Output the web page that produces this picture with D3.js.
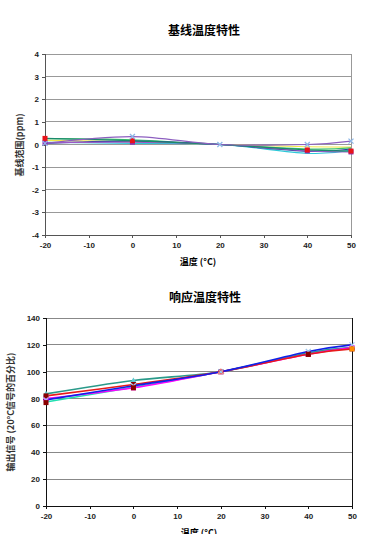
<!DOCTYPE html>
<html><head><meta charset="utf-8">
<script src="https://cdn.jsdelivr.net/npm/d3@7"></script>
<style>body{margin:0;background:#fff}svg{display:block}</style>
</head><body><svg id="c" width="392" height="534"></svg>
<script>
// ---------- data ----------
const temps = [-20, 0, 20, 40, 50];
const xTicks = [-20, -10, 0, 10, 20, 30, 40, 50];
const baseTicks = [-4, -3, -2, -1, 0, 1, 2, 3, 4];
const respTicks = [0, 20, 40, 60, 80, 100, 120, 140];

const baseTitle = "基线温度特性";
const respTitle = "响应温度特性";
const xLabel = "温度 (°C)";
const baseYLabel = "基线范围(ppm)";
const respYLabel = "输出信号 (20°C信号的百分比)";

const baseSeries = [
  {name:"s1", color:"#f2e94a", marker:null,     values:[0.18, 0.12, 0, -0.1, -0.12]},
  {name:"s2", color:"#3ec46d", marker:null,     values:[0.26, 0.21, 0, -0.2, -0.15]},
  {name:"s3", color:"#2ec8d8", marker:null,     values:[0.10, 0.05, 0, -0.39, -0.25]},
  {name:"s4", color:"#2a3d9a", marker:null,     values:[0.05, 0.15, 0, -0.30, -0.20]},
  {name:"s5", color:"#9b59c8", marker:"square", mcolor:"#8e2fb5", values:[0.08, 0.10, null, -0.28, -0.33]},
  {name:"s7", color:"#1a8a6a", marker:"square", mcolor:"#e8141a", values:[0.27, 0.17, null, -0.24, -0.29]},
  {name:"s6", color:"#8d5fc0", marker:"x",      mcolor:"#8fb8e8", values:[0.05, 0.35, 0, 0.0, 0.15]}
];

const respSeries = [
  {name:"r1", color:"#20e0b0", marker:null,     values:[77.5, 88.5, 100, 114, 118]},
  {name:"r2", color:"#2a9a8a", marker:"tri",    mcolor:"#5fc8d0", values:[83.5, 93.5, 100, 114, 118]},
  {name:"r3", color:"#ff00ff", marker:"square", mcolor:"#ff00ff", values:[80, 88, 100, 113, 118]},
  {name:"r4", color:"#e81a1a", marker:"square", mcolor:"#8b0000", values:[82, 90.5, 100, 113, 117]},
  {name:"r5", color:"#1020e8", marker:"x",      mcolor:"#a0c8f0", values:[79, 89.5, 100, 115, 120]},
  {name:"r6", color:null,      marker:"square", mcolor:"#ff8c00", values:[null, null, null, null, 117]},
  {name:"r7", color:null,      marker:"square", mcolor:"#8b0000", values:[77, 88, null, 113, null]},
  {name:"r8", color:null,      marker:"otri",   mcolor:"#f08080", values:[null, null, 100, null, null]}
];

// ---------- drawing ----------
const svg = d3.select("#c");
const tickFont = "bold 8px 'Liberation Sans', Arial, sans-serif";

function chart(cfg){
  const {top,bottom,left,right,yDomain,yTicks,series,title,titleY,ylab,ylabX,ylabY,xlabY,axisColor,gridColor} = cfg;
  const x = d3.scaleLinear().domain([-20,50]).range([left,right]);
  const y = d3.scaleLinear().domain(yDomain).range([bottom,top]);
  const g = svg.append("g");

  g.append("text").attr("x",(left+right)/2+6).attr("y",titleY).attr("text-anchor","middle")
    .attr("dominant-baseline","central")
    .style("font","bold 12px 'Noto Sans CJK SC', sans-serif").text(title);

  g.append("g").selectAll("line").data(yTicks).join("line")
    .attr("x1",left).attr("x2",right).attr("y1",d=>y(d)).attr("y2",d=>y(d))
    .attr("stroke",gridColor).attr("stroke-width",1).attr("shape-rendering","crispEdges");
  g.append("line").attr("x1",right).attr("x2",right).attr("y1",top).attr("y2",bottom)
    .attr("stroke",cfg.rightColor).attr("shape-rendering","crispEdges");

  const fmt = d=>String(d);
  const ya = d3.axisLeft(y).tickValues(yTicks).tickSize(3).tickPadding(3).tickFormat(fmt);
  const yg = g.append("g").attr("transform",`translate(${left},0)`).call(ya);
  const xa = d3.axisBottom(x).tickValues(xTicks).tickSize(3).tickPadding(4).tickFormat(fmt);
  const xg = g.append("g").attr("transform",`translate(0,${bottom})`).call(xa);
  [yg,xg].forEach(a=>{
    a.select(".domain").attr("stroke",axisColor).attr("shape-rendering","crispEdges");
    a.selectAll(".tick line").attr("stroke",axisColor).attr("shape-rendering","crispEdges");
    a.selectAll("text").style("font",tickFont).attr("fill","#222");
  });

  g.append("text").attr("x",(left+right)/2).attr("y",xlabY).attr("text-anchor","middle")
    .attr("dominant-baseline","central")
    .style("font","bold 9px 'Noto Sans CJK SC', sans-serif").text(xLabel);
  g.append("text").attr("transform",`translate(${ylabX},${ylabY}) rotate(-90)`).attr("text-anchor","middle")
    .attr("dominant-baseline","central")
    .style("font","bold 9px 'Noto Sans CJK SC', sans-serif").attr("fill","#333").text(ylab);

  const line = d3.line().x(d=>x(d.t)).y(d=>y(d.v)).curve(d3.curveCatmullRom.alpha(0));
  series.forEach(s=>{
    if(!s.color) return;
    const pts = temps.map((t,i)=>({t, v:s.values[i]})).filter(d=>d.v!=null);
    if(s.values[2]===null){ pts.push({t:20,v:yDomain[0]===0?100:0}); pts.sort((a,b)=>a.t-b.t); }
    g.append("path").datum(pts).attr("d",line).attr("fill","none")
      .attr("stroke",s.color).attr("stroke-width",cfg.lw);
  });
  series.forEach(s=>{
    if(!s.marker) return;
    const pts = temps.map((t,i)=>({t, v:s.values[i]})).filter(d=>d.v!=null);
    const mg = g.append("g");
    pts.forEach(d=>{
      const cx=x(d.t), cy=y(d.v);
      if(s.marker==="square"){
        mg.append("rect").attr("x",cx-2.5).attr("y",cy-2.5).attr("width",5).attr("height",5).attr("fill",s.mcolor);
      } else if(s.marker==="x"){
        mg.append("path").attr("d",`M${cx-2.5},${cy-2.5}L${cx+2.5},${cy+2.5}M${cx-2.5},${cy+2.5}L${cx+2.5},${cy-2.5}`)
          .attr("stroke",s.mcolor).attr("stroke-width",1.3);
      } else if(s.marker==="tri"){
        mg.append("path").attr("d",`M${cx},${cy-3}L${cx+3},${cy+2}L${cx-3},${cy+2}Z`).attr("fill",s.mcolor);
      } else if(s.marker==="otri"){
        mg.append("path").attr("d",`M${cx},${cy-3}L${cx+3},${cy+2}L${cx-3},${cy+2}Z`).attr("fill","none")
          .attr("stroke",s.mcolor).attr("stroke-width",1);
      }
    });
  });
}

chart({top:54,bottom:235,left:45,right:351,yDomain:[-4,4],yTicks:baseTicks,series:baseSeries,
  title:baseTitle,titleY:29,ylab:baseYLabel,ylabX:19,ylabY:145,xlabY:261,
  axisColor:"#555",gridColor:"#999",rightColor:"#999",lw:1.2});
chart({top:318,bottom:506,left:46,right:352,yDomain:[0,140],yTicks:respTicks,series:respSeries,
  title:respTitle,titleY:296,ylab:respYLabel,ylabX:10,ylabY:412,xlabY:532,
  axisColor:"#111",gridColor:"#888",rightColor:"#111",lw:1.6});
</script></body></html>
